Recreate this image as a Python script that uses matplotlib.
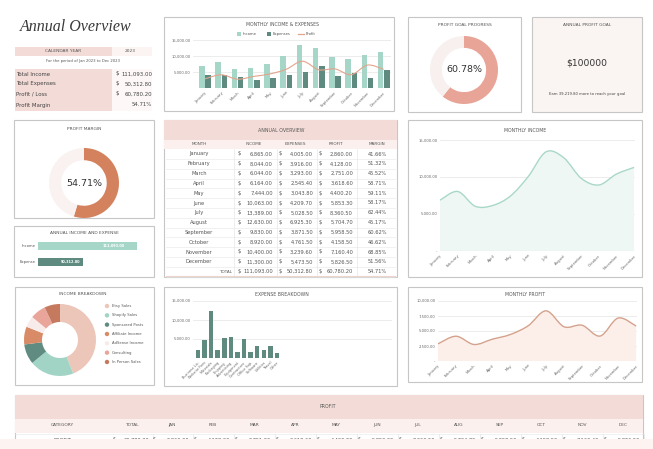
import matplotlib
matplotlib.use('Agg')
import matplotlib.pyplot as plt
import numpy as np
from matplotlib.patches import Rectangle, PathPatch, Circle
from matplotlib.path import Path

plt.rcParams['font.family'] = ['DejaVu Sans']

W, H = 653, 449

# ---------------- data ----------------
months = ['January', 'February', 'March', 'April', 'May', 'June', 'July',
          'August', 'September', 'October', 'November', 'December']
month_abbr = ['JAN', 'FEB', 'MAR', 'APR', 'MAY', 'JUN', 'JUL', 'AUG', 'SEP',
              'OCT', 'NOV', 'DEC']
income = [6865.00, 8044.00, 6044.00, 6164.00, 7444.00, 10063.00, 13389.00,
          12630.00, 9830.00, 8920.00, 10400.00, 11300.00]
expenses = [4005.00, 3916.00, 3293.00, 2545.40, 3043.80, 4209.70, 5028.50,
            6925.30, 3871.50, 4761.50, 3239.60, 5473.50]
profit = [2860.00, 4128.00, 2751.00, 3618.60, 4400.20, 5853.30, 8360.50,
          5704.70, 5958.50, 4158.50, 7160.40, 5826.50]
margin = [41.66, 51.32, 45.52, 58.71, 59.11, 58.17, 62.44, 45.17, 60.62,
          46.62, 68.85, 51.56]
total_income = 111093.00
total_expenses = 50312.80
total_profit = 60780.20
total_margin = 54.71
profit_goal = 100000
goal_progress = 60.78
goal_remaining = 39219.80

income_sources = ['Etsy Sales', 'Shopify Sales', 'Sponsored Posts',
                  'Affiliate Income', 'AdSense Income', 'Consulting',
                  'In Person Sales']
income_shares = [44, 20, 9, 8, 5, 7, 7]
source_colors = ['#ecc6b9', '#a2d4c6', '#5f8b80', '#d88b66', '#f8ecea',
                 '#e9a59a', '#c57a5f']

expense_categories = ['Business Lic.', 'Website Fees', 'Materials', 'Packaging',
                      'Shipping', 'Advertising', 'Equipment', 'Contractors',
                      'Office Sup.', 'Software', 'Utilities', 'Travel', 'Other']
expense_values = [2000, 4700, 12400, 2000, 5300, 5600, 1600, 4900, 1500, 3200,
                  2100, 3100, 1200]
expense_slots = 30

MINT = '#a6d6c8'
TEAL = '#5e8a7f'
PEACH = '#e2a48c'
PINK = '#f3dcd7'
LPINK = '#fbf0ee'
BORDER = '#c6c6c6'
TXT = '#555555'

fig = plt.figure(figsize=(W / 100, H / 100), dpi=100)
bg = fig.add_axes([0, 0, 1, 1])
bg.set_xlim(0, W)
bg.set_ylim(H, 0)
bg.axis('off')


def axpx(x0, y0, x1, y1):
    a = fig.add_axes([x0 / W, 1 - y1 / H, (x1 - x0) / W, (y1 - y0) / H])
    a.set_facecolor('none')
    return a


def rect(x0, y0, x1, y1, fc='white', ec='none', lw=0.0, z=1):
    bg.add_patch(Rectangle((x0, y0), x1 - x0, y1 - y0, fc=fc, ec=ec, lw=lw, zorder=z))


def panel(x0, y0, x1, y1, fc='white'):
    rect(x0, y0, x1, y1, fc=fc, ec=BORDER, lw=0.8)


def txt(x, y, s, size=3.6, ha='center', va='center', color=TXT, **kw):
    bg.text(x, y, s, fontsize=size, ha=ha, va=va, color=color, zorder=5, **kw)


def smooth_path(xs, ys, base=None):
    pts = np.column_stack([xs, ys]).astype(float)
    n = len(pts)
    verts = [pts[0]]
    codes = [Path.MOVETO]
    for i in range(n - 1):
        p0 = pts[i - 1] if i > 0 else pts[i]
        p1 = pts[i]
        p2 = pts[i + 1]
        p3 = pts[i + 2] if i + 2 < n else pts[i + 1]
        verts += [p1 + (p2 - p0) / 6, p2 - (p3 - p1) / 6, p2]
        codes += [Path.CURVE4] * 3
    if base is not None:
        verts += [(xs[-1], base), (xs[0], base), pts[0]]
        codes += [Path.LINETO, Path.LINETO, Path.CLOSEPOLY]
    return Path(verts, codes)


def fmt(v):
    return f'{v:,.2f}'


def style_axis(ax, yticks, ylabels, grid_color='#e4e4e4'):
    for s in ax.spines.values():
        s.set_visible(False)
    ax.set_yticks(yticks)
    ax.set_yticklabels(ylabels, fontsize=2.7, color='#666666')
    ax.tick_params(length=0, pad=2)
    for yv in yticks:
        ax.axhline(yv, color=grid_color, lw=0.5, zorder=0)
    ax.axhline(0, color='#bdbdbd', lw=0.6, zorder=0)


# ---------------- title block ----------------
txt(20, 27, 'Annual Overview', size=11.5, ha='left', color='#3a3a3a',
    family='Liberation Serif', style='italic')
rect(15, 47, 112, 56, fc=PINK)
rect(112, 47, 152, 56, fc='#fbf4f2')
txt(63, 51.5, 'CALENDAR YEAR', size=3.2)
txt(130, 51.5, '2023', size=3.2)
txt(83, 61, 'For the period of Jan 2023 to Dec 2023', size=2.7)
rect(15, 69, 112, 111, fc=PINK)
rect(112, 69, 152, 111, fc='#fdf8f7')
summary_rows = [('Total Income', '$', fmt(total_income), 74),
                ('Total Expenses', '$', fmt(total_expenses), 84),
                ('Profit / Loss', '$', fmt(total_profit), 94),
                ('Profit Margin', '', f'{total_margin:.2f}%', 105)]
for lab, cur, val, y in summary_rows:
    txt(16, y, lab, size=3.9, ha='left', color='#444444')
    if cur:
        txt(117, y, cur, size=3.9, color='#444444')
    txt(152, y, val, size=3.9, ha='right', color='#444444')

# ---------------- panels ----------------
panel(164, 17, 394, 111)
panel(408, 17, 521, 112)
panel(532, 17, 642, 112, fc='#faf4f2')
panel(14, 120, 154, 218)
panel(14, 226, 154, 277)
panel(164, 120, 397, 277)
panel(408, 120, 642, 277)
panel(15, 287, 154, 385)
panel(164, 287, 397, 386)
panel(408, 287, 642, 382)
panel(15, 395, 643, 449)

# ---------------- monthly income & expenses ----------------
txt(282, 25, 'MONTHLY INCOME & EXPENSES', size=3.3, color='#555555')
bg.add_patch(Rectangle((237, 32), 4, 4, fc=MINT, zorder=5))
txt(243, 34, 'Income', size=2.7, ha='left')
bg.add_patch(Rectangle((267, 32), 4, 4, fc=TEAL, zorder=5))
txt(273, 34, 'Expenses', size=2.7, ha='left')
bg.plot([298, 304], [34, 34], color=PEACH, lw=0.9, zorder=5)
txt(306, 34, 'Profit', size=2.7, ha='left')

ax1 = axpx(193, 40, 391, 88)
x = np.arange(len(months))
ax1.bar(x - 0.19, income, width=0.34, color=MINT, zorder=2)
ax1.bar(x + 0.19, expenses, width=0.34, color=TEAL, zorder=2)
ax1.add_patch(PathPatch(smooth_path(x, profit), fc='none', ec=PEACH, lw=0.8, zorder=3))
ax1.set_xlim(-0.74, 11.45)
ax1.set_ylim(0, 15000)
style_axis(ax1, [5000, 10000, 15000], ['5,000.00', '10,000.00', '15,000.00'])
ax1.set_xticks(x)
ax1.set_xticklabels(months, rotation=45, ha='right', rotation_mode='anchor',
                    fontsize=2.7, color='#666666')

# ---------------- profit goal progress ----------------
txt(465, 25, 'PROFIT GOAL PROGRESS', size=3.2)
axg = axpx(430, 36, 498, 104)
axg.pie([goal_progress, 100 - goal_progress], colors=['#e8a497', '#f8f0ee'],
        startangle=90, counterclock=False, radius=1,
        wedgeprops=dict(width=0.35, edgecolor='none'))
axg.set_xlim(-1, 1)
axg.set_ylim(-1, 1)
axg.set_aspect('equal')
txt(464, 70, f'{goal_progress:.2f}%', size=6.8, color='#333333')

# ---------------- annual profit goal ----------------
txt(587, 25, 'ANNUAL PROFIT GOAL', size=3.2)
txt(587, 63, f'${profit_goal}', size=6.6, color='#333333')
txt(587, 94, f'Earn {goal_remaining:,.2f} more to reach your goal', size=2.7,
    color='#444444')

# ---------------- profit margin ----------------
txt(84, 129, 'PROFIT MARGIN', size=3.2)
axm = axpx(49, 148, 119, 218)
axm.pie([total_margin, 100 - total_margin], colors=['#d4825e', '#f9f2f0'],
        startangle=90, counterclock=False, radius=1,
        wedgeprops=dict(width=0.35, edgecolor='none'))
axm.set_xlim(-1, 1)
axm.set_ylim(-1, 1)
axm.set_aspect('equal')
txt(84, 183, f'{total_margin:.2f}%', size=6.8, color='#333333')

# ---------------- annual income and expense ----------------
txt(84, 233, 'ANNUAL INCOME AND EXPENSE', size=3.2)
axb = axpx(38, 238, 137, 270)
bar_labels = ['Income', 'Expense']
bar_vals = [total_income, total_expenses]
axb.barh([0, 1], bar_vals, height=0.56, color=[MINT, TEAL])
axb.set_xlim(0, total_income)
axb.set_ylim(1.5, -0.5)
for s in axb.spines.values():
    s.set_visible(False)
axb.set_xticks([])
axb.set_yticks([0, 1])
axb.set_yticklabels(bar_labels, fontsize=2.7, color='#555555')
axb.tick_params(length=0, pad=2)
for i, (v, off) in enumerate(zip(bar_vals, [-12, -3])):
    axb.annotate(fmt(v), (v, i), xytext=(off * 0.72, 0), textcoords='offset points',
                 ha='right', va='center', fontsize=2.5, color='white',
                 fontweight='bold')

# ---------------- annual overview table ----------------
rect(164.4, 120.4, 396.6, 140, fc=PINK, z=2)
rect(164.4, 140, 396.6, 148.5, fc=LPINK, z=2)
txt(281, 130, 'ANNUAL OVERVIEW', size=3.4)
for lab, xx in [('MONTH', 199), ('INCOME', 254), ('EXPENSES', 295),
                ('PROFIT', 336), ('MARGIN', 377)]:
    txt(xx, 144.3, lab, size=3.0)
row_h = 9.8
y0 = 154
for i in range(len(months) + 1):
    yl = y0 - row_h / 2 + row_h * (i + 1)
    bg.plot([166, 395], [yl, yl], color='#e6e6e6', lw=0.4, zorder=3)
for xv in [234, 277, 317, 357]:
    bg.plot([xv, xv], [148.5, 276], color='#e2e2e2', lw=0.4, zorder=3)
for i, m in enumerate(months):
    y = y0 + row_h * i
    txt(199, y, m, size=3.7)
    txt(239, y, '$', size=3.7)
    txt(273, y, fmt(income[i]), size=3.7, ha='right')
    txt(280, y, '$', size=3.7)
    txt(313, y, fmt(expenses[i]), size=3.7, ha='right')
    txt(320, y, '$', size=3.7)
    txt(353, y, fmt(profit[i]), size=3.7, ha='right')
    txt(387, y, f'{margin[i]:.2f}%', size=3.7, ha='right')
yt = y0 + row_h * 12
txt(232, yt, 'TOTAL', size=3.0, ha='right')
txt(239, yt, '$', size=3.7)
txt(273, yt, fmt(total_income), size=3.7, ha='right')
txt(280, yt, '$', size=3.7)
txt(313, yt, fmt(total_expenses), size=3.7, ha='right')
txt(320, yt, '$', size=3.7)
txt(353, yt, fmt(total_profit), size=3.7, ha='right')
txt(387, yt, f'{total_margin:.2f}%', size=3.7, ha='right')
bg.plot([166, 395], [276, 276], color='#efd3cd', lw=0.8, zorder=3)

# ---------------- monthly income ----------------
txt(525, 130, 'MONTHLY INCOME', size=3.3)
ax2 = axpx(440, 140, 635, 251)
ax2.add_patch(PathPatch(smooth_path(x, income, base=0), fc='#eef7f3', ec='none', zorder=1))
ax2.add_patch(PathPatch(smooth_path(x, income), fc='none', ec='#a9d8c9', lw=1.0, zorder=3))
ax2.set_xlim(0, 11.05)
ax2.set_ylim(0, 15000)
style_axis(ax2, [0, 5000, 10000, 15000], ['-', '5,000.00', '10,000.00', '15,000.00'])
ax2.axhline(0, color='#b9dccf', lw=0.8, zorder=2)
ax2.set_xticks(x)
ax2.set_xticklabels(months, rotation=45, ha='right', rotation_mode='anchor',
                    fontsize=2.7, color='#666666')

# ---------------- income breakdown ----------------
txt(83, 294, 'INCOME BREAKDOWN', size=3.2)
axp = axpx(24, 304, 96, 376)
axp.pie(income_shares, colors=source_colors, startangle=90, counterclock=False,
        radius=1, wedgeprops=dict(width=0.5, edgecolor='none'))
axp.set_xlim(-1, 1)
axp.set_ylim(-1, 1)
axp.set_aspect('equal')
for i, (src, c) in enumerate(zip(income_sources, source_colors)):
    yy = 306 + 9.33 * i
    bg.add_patch(Circle((107, yy), 2.2, fc=c, ec='none', zorder=5))
    txt(112, yy, src, size=2.7, ha='left')

# ---------------- expense breakdown ----------------
txt(282, 294, 'EXPENSE BREAKDOWN', size=3.3)
ax3 = axpx(193, 301, 392, 358)
xe = np.arange(len(expense_values))
ax3.bar(xe, expense_values, width=0.68, color=TEAL, zorder=2)
ax3.set_xlim(-0.75, expense_slots - 0.55)
ax3.set_ylim(0, 15000)
style_axis(ax3, [5000, 10000, 15000], ['5,000.00', '10,000.00', '15,000.00'])
ax3.set_xticks(xe)
ax3.set_xticklabels(expense_categories, rotation=45, ha='right',
                    rotation_mode='anchor', fontsize=2.5, color='#666666')

# ---------------- monthly profit ----------------
txt(525, 294, 'MONTHLY PROFIT', size=3.3)
ax4 = axpx(438, 301, 637, 361)
ax4.add_patch(PathPatch(smooth_path(x, profit, base=0), fc='#fcefea', ec='none', zorder=1))
ax4.add_patch(PathPatch(smooth_path(x, profit), fc='none', ec='#d4a28d', lw=1.0, zorder=3))
ax4.set_xlim(0, 11.05)
ax4.set_ylim(0, 10000)
style_axis(ax4, [0, 2500, 5000, 7500, 10000],
           ['-', '2,500.00', '5,000.00', '7,500.00', '10,000.00'])
ax4.set_xticks(x)
ax4.set_xticklabels(months, rotation=45, ha='right', rotation_mode='anchor',
                    fontsize=2.7, color='#666666')

# ---------------- bottom profit table ----------------
rect(15.4, 395.4, 642.6, 419, fc=PINK, z=2)
rect(15.4, 419, 642.6, 433, fc=LPINK, z=2)
txt(328, 407, 'PROFIT', size=3.3)
col_x = [132] + [172 + 41.0 * i for i in range(12)]
txt(62, 425, 'CATEGORY', size=3.2)
txt(col_x[0], 425, 'TOTAL', size=3.2)
for i, m in enumerate(month_abbr):
    txt(col_x[i + 1], 425, m, size=3.2)
bvals = [total_profit] + profit
txt(62, 440, 'PROFIT', size=3.6)
for cx, v in zip(col_x, bvals):
    txt(cx - 18, 440, '$', size=3.6)
    txt(cx + 17, 440, fmt(v), size=3.6, ha='right')
    bg.plot([cx + 20.5, cx + 20.5], [434, 449], color='#e0e0e0', lw=0.4, zorder=3)
bg.plot([15, 643], [433.5, 433.5], color='#e6e6e6', lw=0.4, zorder=3)
rect(0, 439, W, H, fc='#fdf3f0', z=8)

fig.savefig('out.png', dpi=100)
